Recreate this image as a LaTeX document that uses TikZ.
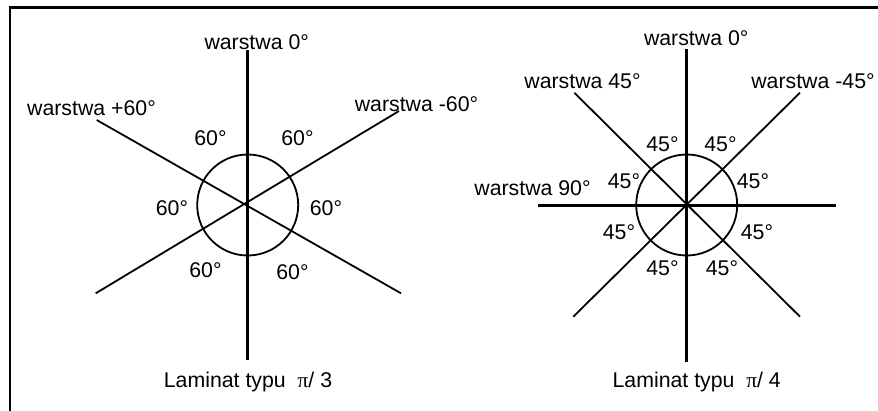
\documentclass[tikz,border=0pt]{standalone}
\usepackage{fontspec}
\setmainfont{Liberation Sans}
\newfontfamily\pifont{Liberation Serif}
\begin{document}
\begin{tikzpicture}[x=1pt,y=-1pt,
  lbl/.style={inner sep=0pt,font=\fontsize{21.3}{24}\selectfont},
  thick axis/.style={line width=3pt},
  thin axis/.style={line width=1.8pt},
  ring/.style={line width=1.8pt},
  frameline/.style={line width=2.2pt}]
\useasboundingbox (0,0) rectangle (878,410);
% frame (only left and top visible)
\coordinate (fbl) at (10,412);
\coordinate (ftl) at (10,7.5);
\coordinate (ftr) at (880,7.5);
\draw[frameline] (fbl) -- (ftl) -- (ftr);

% ---------- left diagram ----------
\coordinate (A) at (247.7,205);
\coordinate (At) at (247.7,50);
\coordinate (Ab) at (247.7,360);
\coordinate (Aul) at (96.7,120);
\coordinate (Alr) at (401,293.3);
\coordinate (Aur) at (399,111);
\coordinate (All) at (95.7,293.3);
\draw[thin axis] (Aul) -- (Alr);
\draw[thin axis] (Aur) -- (All);
\draw[ring] (A) circle[radius=50.5];
\draw[thick axis] (At) -- (Ab);

\node[lbl] (a0) at (256.7,42) {warstwa 0°};
\node[lbl] (ap) at (91.5,108) {warstwa +60°};
\node[lbl] (am) at (416.5,104) {warstwa -60°};
\node[lbl] (a1) at (210.5,138) {60°};
\node[lbl] (a2) at (297.5,138) {60°};
\node[lbl] (a3) at (172,208) {60°};
\node[lbl] (a4) at (326,208) {60°};
\node[lbl] (a5) at (205.5,270) {60°};
\node[lbl] (a6) at (292.5,272) {60°};
\node[lbl] (acap) at (248,382) {Laminat typu\ \ {\pifont π}/ 3};

% ---------- right diagram ----------
\coordinate (B) at (686.7,205);
\coordinate (Bt) at (686.7,49);
\coordinate (Bb) at (686.7,362);
\coordinate (Bl) at (538.3,205);
\coordinate (Br) at (835.7,205);
\coordinate (Bul) at (574.3,92.7);
\coordinate (Blr) at (800,316.7);
\coordinate (Bur) at (800,92.7);
\coordinate (Bll) at (573.3,316.7);
\draw[thin axis] (Bul) -- (Blr);
\draw[thin axis] (Bur) -- (Bll);
\draw[ring] (B) circle[radius=50.5];
\draw[thick axis] (Bt) -- (Bb);
\draw[thick axis] (Bl) -- (Br);

\node[lbl] (b0) at (696.2,38) {warstwa 0°};
\node[lbl] (b45) at (582.5,81) {warstwa 45°};
\node[lbl] (bm45) at (813,81) {warstwa -45°};
\node[lbl] (b90) at (532.5,188) {warstwa 90°};
\node[lbl] (b1) at (662.5,144) {45°};
\node[lbl] (b2) at (720.5,144) {45°};
\node[lbl] (b3) at (624,181) {45°};
\node[lbl] (b4) at (753,181) {45°};
\node[lbl] (b5) at (619,232) {45°};
\node[lbl] (b6) at (757,232) {45°};
\node[lbl] (b7) at (662.5,268) {45°};
\node[lbl] (b8) at (722,268) {45°};
\node[lbl] (bcap) at (696.7,382) {Laminat typu\ \ {\pifont π}/ 4};
\end{tikzpicture}
\end{document}
